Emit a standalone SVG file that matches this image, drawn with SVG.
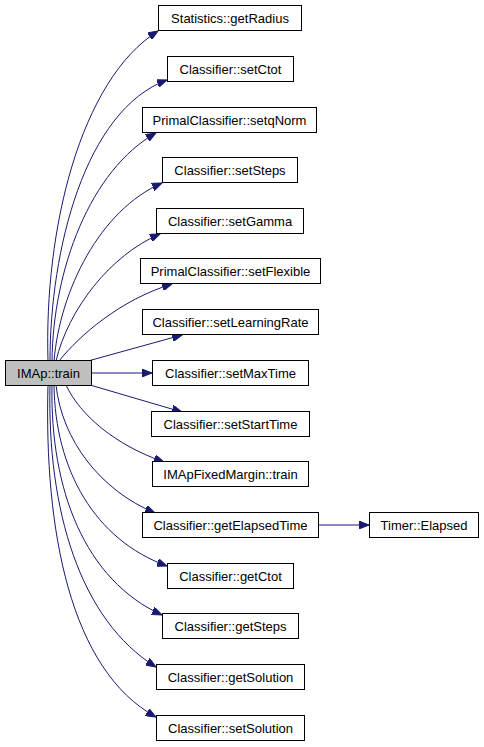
<svg xmlns="http://www.w3.org/2000/svg" width="484" height="747" viewBox="0 0 484 747">
<style>
.n rect{fill:#fff;stroke:#000;stroke-width:1}
.n.root rect{fill:#bfbfbf}
.n text{font-family:"Liberation Sans",Arial,sans-serif;font-size:13px;fill:#000;text-anchor:middle}
.e path{fill:none;stroke:#191970;stroke-width:1;marker-end:url(#ah)}
</style>
<defs>
<marker id="ah" markerUnits="userSpaceOnUse" markerWidth="11" markerHeight="8" refX="10" refY="4" orient="auto">
<path d="M0,0 L10,4 L0,8 z" fill="#191970" stroke="#191970" stroke-width="1"/>
</marker>
</defs>
<g id="edges" class="e">
<path d="M48,361 C44,230 80,80 158,31"/>
<path d="M50,361 C50,250 85,110 167,80"/>
<path d="M52,361 C53,270 90,170 156,133"/>
<path d="M54,361 C60,290 100,210 162,183"/>
<path d="M56,361 C68,310 110,255 160,234"/>
<path d="M59,361 C80,335 120,300 172,284"/>
<path d="M88,361 L182,335"/>
<path d="M91,373 L152,373"/>
<path d="M90,385 L182,412"/>
<path d="M66,385 C80,415 115,445 164,462"/>
<path d="M56,385 C62,440 100,490 155,513"/>
<path d="M54,385 C55,470 95,540 167,566"/>
<path d="M52,385 C50,490 85,580 162,615"/>
<path d="M50,385 C47,510 80,620 156,667"/>
<path d="M48,385 C44,530 70,670 156,717"/>
<path d="M318,525 L369,525"/>
</g>
<g id="IMAp_train" class="n root"><rect x="5.5" y="360.5" width="86" height="25"/><text x="48.5" y="377.5">IMAp::train</text></g>
<g id="Statistics_getRadius" class="n"><rect x="158.5" y="5.5" width="143" height="25"/><text x="230" y="22.5">Statistics::getRadius</text></g>
<g id="Classifier_setCtot" class="n"><rect x="167.5" y="56.5" width="126" height="25"/><text x="230.5" y="73.5">Classifier::setCtot</text></g>
<g id="PrimalClassifier_setqNorm" class="n"><rect x="142.5" y="107.5" width="174" height="25"/><text x="229.5" y="124.5">PrimalClassifier::setqNorm</text></g>
<g id="Classifier_setSteps" class="n"><rect x="162.5" y="157.5" width="135" height="25"/><text x="230" y="174.5">Classifier::setSteps</text></g>
<g id="Classifier_setGamma" class="n"><rect x="156.5" y="208.5" width="147" height="25"/><text x="230" y="225.5">Classifier::setGamma</text></g>
<g id="PrimalClassifier_setFlexible" class="n"><rect x="140.5" y="258.5" width="180" height="25"/><text x="230.5" y="275.5">PrimalClassifier::setFlexible</text></g>
<g id="Classifier_setLearningRate" class="n"><rect x="142.5" y="309.5" width="176" height="25"/><text x="230.5" y="326.5">Classifier::setLearningRate</text></g>
<g id="Classifier_setMaxTime" class="n"><rect x="152.5" y="360.5" width="156" height="25"/><text x="230.5" y="377.5">Classifier::setMaxTime</text></g>
<g id="Classifier_setStartTime" class="n"><rect x="151.5" y="411.5" width="158" height="25"/><text x="230.5" y="428.5">Classifier::setStartTime</text></g>
<g id="IMApFixedMargin_train" class="n"><rect x="152.5" y="461.5" width="156" height="25"/><text x="230.5" y="478.5">IMApFixedMargin::train</text></g>
<g id="Classifier_getElapsedTime" class="n"><rect x="142.5" y="512.5" width="176" height="25"/><text x="230.5" y="529.5">Classifier::getElapsedTime</text></g>
<g id="Classifier_getCtot" class="n"><rect x="167.5" y="563.5" width="126" height="25"/><text x="230.5" y="580.5">Classifier::getCtot</text></g>
<g id="Classifier_getSteps" class="n"><rect x="162.5" y="613.5" width="136" height="25"/><text x="230.5" y="630.5">Classifier::getSteps</text></g>
<g id="Classifier_getSolution" class="n"><rect x="156.5" y="664.5" width="148" height="25"/><text x="230.5" y="681.5">Classifier::getSolution</text></g>
<g id="Classifier_setSolution" class="n"><rect x="156.5" y="715.5" width="148" height="25"/><text x="230.5" y="732.5">Classifier::setSolution</text></g>
<g id="Timer_Elapsed" class="n"><rect x="369.5" y="512.5" width="109" height="25"/><text x="424" y="529.5">Timer::Elapsed</text></g>
</svg>
